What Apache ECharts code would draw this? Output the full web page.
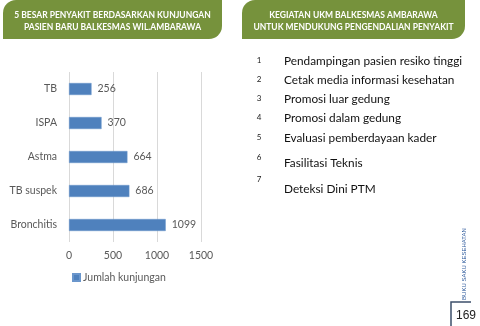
<!DOCTYPE html>
<html>
<head>
<meta charset="utf-8">
<script src="https://cdn.jsdelivr.net/npm/echarts@6/dist/echarts.min.js"></script>
<style>
  html, body { margin: 0; padding: 0; background: #fff; }
  #chart { width: 480px; height: 326px; }
</style>
</head>
<body>
<div id="chart"></div>
<script>
// data
var categories = ["TB", "ISPA", "Astma", "TB suspek", "Bronchitis"];
var visits = [256, 370, 664, 686, 1099];
var seriesName = "Jumlah kunjungan";
var leftTitle = ["5 BESAR PENYAKIT BERDASARKAN KUNJUNGAN", "PASIEN BARU BALKESMAS WIL.AMBARAWA"];
var rightTitle = ["KEGIATAN UKM BALKESMAS AMBARAWA", "UNTUK MENDUKUNG PENGENDALIAN PENYAKIT"];
var activities = [
  "Pendampingan pasien resiko tinggi",
  "Cetak media informasi kesehatan",
  "Promosi luar gedung",
  "Promosi dalam gedung",
  "Evaluasi pemberdayaan kader",
  "Fasilitasi Teknis",
  "Deteksi Dini PTM"
];
var pageNumber = "169";

var green = "#76923c";
var grey = "#595959";
var font = "Lato";

// list rows: number y / text y (items 6, 7 have text dropped a bit lower)
var numY = [60, 79, 98, 117, 137, 157, 179];
var txtY = [61, 80, 99, 118, 138, 163, 189];

var graphics = [];
function banner(x, w, lines) {
  graphics.push({
    type: "rect",
    shape: { x: x, y: 0, width: w, height: 39, r: [13, 0, 13, 0] },
    style: { fill: green }
  });
  lines.forEach(function (t, i) {
    graphics.push({
      type: "text",
      x: x + w / 2,
      y: 15 + i * 12,
      style: {
        text: t, fill: "#fff", fontFamily: font, fontWeight: "bold", fontSize: 8.5,
        textAlign: "center", textVerticalAlign: "middle"
      }
    });
  });
}
banner(3, 219, leftTitle);
banner(242, 223, rightTitle);

activities.forEach(function (t, i) {
  graphics.push({
    type: "text", x: 259, y: numY[i],
    style: { text: String(i + 1), fill: "#222", fontFamily: font, fontSize: 8, textAlign: "center", textVerticalAlign: "middle" }
  });
  graphics.push({
    type: "text", x: 284, y: txtY[i],
    style: { text: t, fill: "#111", fontFamily: font, fontSize: 11.8, textVerticalAlign: "middle" }
  });
});

// side text + page number
graphics.push({
  type: "text", x: 464, y: 264, rotation: Math.PI / 2,
  style: { text: "BUKU SAKU KESEHATAN", fill: "#2e5a9c", fontFamily: "Liberation Sans", fontSize: 6, textAlign: "center", textVerticalAlign: "middle" }
});
graphics.push({
  type: "polyline",
  shape: { points: [[451, 326], [451, 302], [471, 302]] },
  style: { stroke: "#3d4f6b", lineWidth: 1.5, fill: null }
});
graphics.push({
  type: "text", x: 466, y: 316,
  style: { text: pageNumber, fill: "#222", fontFamily: "Liberation Sans", fontSize: 12, textAlign: "center", textVerticalAlign: "middle" }
});

var chart = echarts.init(document.getElementById("chart"));
chart.setOption({
  animation: false,
  textStyle: { fontFamily: font },
  grid: { left: 69, right: 279, top: 72, bottom: 84, containLabel: false },
  legend: {
    data: [seriesName],
    left: 72, top: 272, padding: 0,
    icon: "rect", itemWidth: 7, itemHeight: 7, itemGap: 4,
    textStyle: { color: grey, fontSize: 10.5, fontFamily: font, padding: [0, 0, 0, -2] }
  },
  xAxis: {
    type: "value", min: 0, max: 1500, interval: 500,
    axisLine: { show: false }, axisTick: { show: false },
    axisLabel: { color: grey, fontSize: 10.5, margin: 8, formatter: function (v) { return String(v); } },
    splitLine: { lineStyle: { color: "#d9d9d9" } }
  },
  yAxis: {
    type: "category", data: categories, inverse: true,
    axisLine: { show: false }, axisTick: { show: false },
    axisLabel: { color: grey, fontSize: 10.5, margin: 12 }
  },
  series: [{
    name: seriesName, type: "bar", data: visits, barWidth: 12,
    itemStyle: { color: "#4f81bd", borderColor: "#6a96cc", borderWidth: 0.5 },
    label: { show: true, position: "right", color: grey, fontSize: 10.5, distance: 6 }
  }],
  graphic: graphics
});
</script>
</body>
</html>
